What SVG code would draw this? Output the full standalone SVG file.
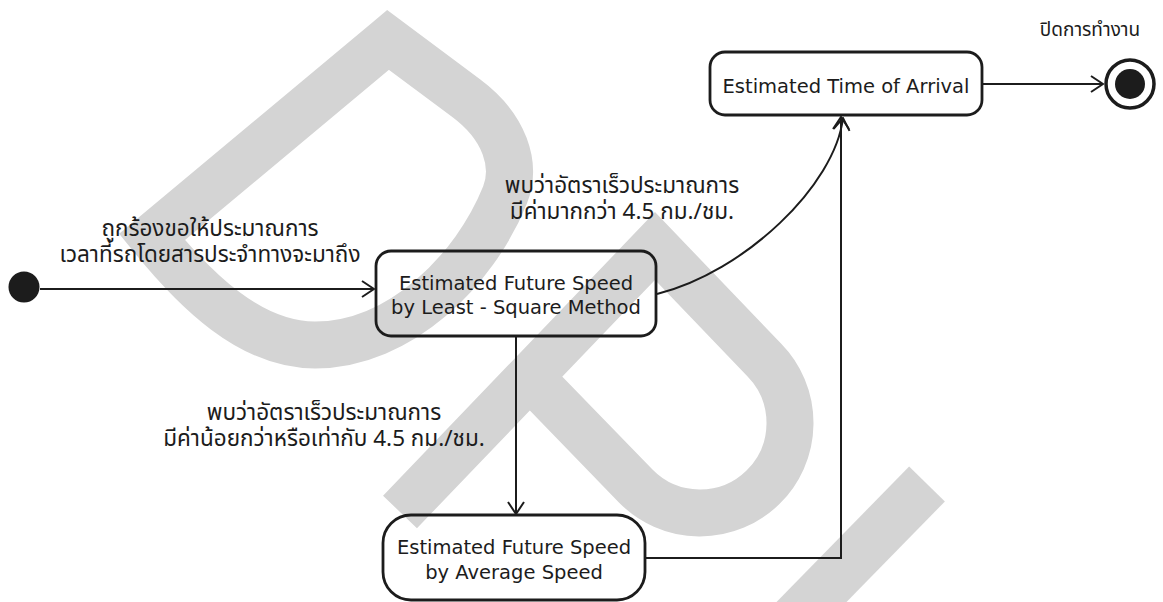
<svg xmlns="http://www.w3.org/2000/svg" width="1163" height="602" viewBox="0 0 1163 602">
  <style>
    .wm { fill: none; stroke: #d4d4d4; stroke-linejoin: miter; stroke-linecap: butt; }
    .node { fill: none; stroke: #1c1c1c; stroke-width: 2.8; }
    .edge { fill: none; stroke: #1c1c1c; stroke-width: 2; }
    .en { font-family: "DejaVu Sans", "Liberation Sans", sans-serif; font-size: 19.5px; fill: #1c1c1c; text-anchor: middle; }
    .th { font-family: "Noto Sans Thai", "Noto Sans Thai UI", Tahoma, "DejaVu Sans", sans-serif; font-size: 22.5px; fill: #1c1c1c; text-anchor: middle; }
    .th-small { font-size: 19px; }
  </style>
  <defs>
    <marker id="open-arrow" viewBox="0 0 14 18" refX="13" refY="9" markerWidth="14" markerHeight="18" orient="auto" markerUnits="userSpaceOnUse">
      <path d="M1,1 L13,9 L1,17" fill="none" stroke="#1c1c1c" stroke-width="2"/>
    </marker>
  </defs>

  <rect width="1163" height="602" fill="#ffffff"/>

  <!-- background watermark strokes -->
  <g id="watermark">
    <path class="wm" stroke-width="47" d="M388,40 L152,237 C195,290 250,345 315,345 C400,345 475,270 505,195 C517,165 505,127 466,98 Z"/>
    <path class="wm" stroke-width="47" d="M400,512 L655,246 L764.3,360 A90,90 0 0,1 635.7,486 L530,377"/>
    <path class="wm" stroke-width="50" d="M927,484 L790,624"/>
  </g>

  <!-- transitions -->
  <g id="connectors">
    <path class="edge" d="M40,289 L374,289" marker-end="url(#open-arrow)"/>
    <path class="edge" d="M516,336 L516,514" marker-end="url(#open-arrow)"/>
    <path class="edge" d="M657,294 C745,272 835,185 843,118" marker-end="url(#open-arrow)"/>
    <path class="edge" d="M645,558 L841,558 L841,117" marker-end="url(#open-arrow)"/>
    <path class="edge" d="M982,84 L1103,84" marker-end="url(#open-arrow)"/>
    <text class="th"><tspan x="210" y="236">ถูกร้องขอให้ประมาณการ</tspan><tspan x="210" y="262">เวลาที่รถโดยสารประจำทางจะมาถึง</tspan></text>
    <text class="th"><tspan x="622" y="193">พบว่าอัตราเร็วประมาณการ</tspan><tspan x="622" y="219">มีค่ามากกว่า 4.5 กม./ชม.</tspan></text>
    <text class="th"><tspan x="324" y="420">พบว่าอัตราเร็วประมาณการ</tspan><tspan x="324" y="446">มีค่าน้อยกว่าหรือเท่ากับ 4.5 กม./ชม.</tspan></text>
  </g>

  <g id="initial">
    <circle cx="24" cy="287" r="15.5" fill="#1c1c1c"/>
  </g>

  <g id="least-square">
    <rect class="node" x="376" y="251" width="280" height="85" rx="15"/>
    <text class="en"><tspan x="516" y="290">Estimated Future Speed</tspan><tspan x="516" y="314">by Least - Square Method</tspan></text>
  </g>

  <g id="average-speed">
    <rect class="node" x="383" y="515" width="262" height="85" rx="28"/>
    <text class="en"><tspan x="514" y="554">Estimated Future Speed</tspan><tspan x="514" y="579">by Average Speed</tspan></text>
  </g>

  <g id="eta">
    <rect class="node" x="710" y="52" width="272" height="63" rx="15"/>
    <text class="en" x="846" y="93">Estimated Time of Arrival</text>
  </g>

  <g id="final">
    <circle cx="1130" cy="84" r="24" fill="none" stroke="#1c1c1c" stroke-width="3.5"/>
    <circle cx="1130" cy="84" r="15" fill="#1c1c1c"/>
    <text class="th th-small" x="1090" y="36">ปิดการทำงาน</text>
  </g>
</svg>
